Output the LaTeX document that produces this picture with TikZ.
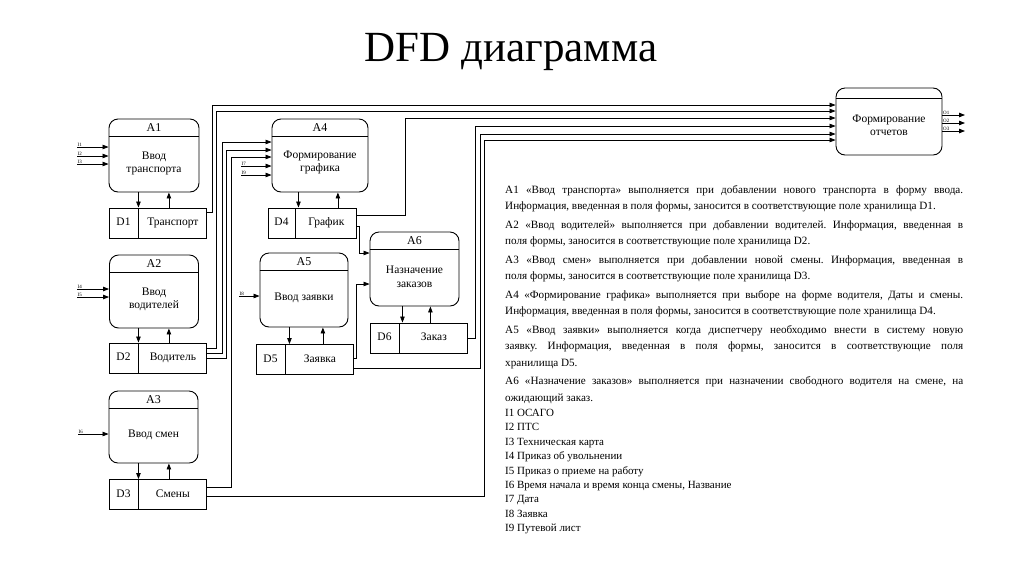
\documentclass[tikz,border=0pt]{standalone}
\usepackage{fontspec}
\setmainfont{Liberation Serif}
\usetikzlibrary{arrows.meta,positioning,calc}

\begin{document}
\begin{tikzpicture}[
  x=1pt, y=-1pt,
  proc/.style={draw, rounded corners=9pt, minimum width=89pt,
               minimum height=73pt, line width=0.9pt},
  ptitle/.style={font=\fontsize{12}{14}\selectfont, inner sep=0pt},
  ptext/.style={align=center, font=\fontsize{11.5}{13.5}\selectfont, inner sep=0pt},
  storeid/.style={draw, line width=0.9pt, minimum width=29pt, minimum height=30pt,
                  inner sep=0pt, text height=8pt, text depth=2.5pt,
                  font=\fontsize{11.5}{14}\selectfont},
  store/.style={storeid, minimum width=68pt},
  arrow/.style={-{Triangle[length=6pt,width=4.5pt]}, line width=0.8pt},
  flow/.style={arrow, line width=0.7pt},
  tiny/.style={font=\fontsize{5}{6}\selectfont, inner sep=0.5pt},
  desc/.style={align=justify, text width=458pt, inner sep=0pt,
               font=\fontsize{11.15}{16.5}\selectfont}
]
  \useasboundingbox[fill=white] (0,0) rectangle (1024,574);

  \node[font=\fontsize{43}{50}\selectfont] (title) at (511,52) {DFD диаграмма};

  % --- processes ----------------------------------------------------
  \node[proc, minimum width=90pt] (a1) at (154,155.5) {};
  \node[proc] (a2) at (154,291.5) {};
  \node[proc, minimum height=72pt] (a3) at (153.5,427) {};
  \node[proc, minimum width=96pt] (a4) at (320,155.5) {};
  \node[proc, minimum width=88pt, minimum height=74pt] (a5) at (304,290) {};
  \node[proc, minimum height=74pt] (a6) at (414.5,269) {};
  \node[proc, minimum width=106pt, minimum height=67pt] (rep) at (889,121.5) {};

  \foreach \p in {a1,a2,a3,a4,a5,a6}
    \draw[line width=0.7pt] ([yshift=-18pt]\p.north west) -- ([yshift=-18pt]\p.north east);
  \draw[line width=0.7pt] ([yshift=-11pt]rep.north west) -- ([yshift=-11pt]rep.north east);

  \node[ptitle] (a1t) at ([yshift=-9pt]a1.north) {A1};
  \node[ptitle] (a2t) at ([yshift=-9pt]a2.north) {A2};
  \node[ptitle] (a3t) at ([yshift=-9pt]a3.north) {A3};
  \node[ptitle] (a4t) at ([yshift=-9pt]a4.north) {A4};
  \node[ptitle] (a5t) at ([yshift=-9pt]a5.north) {A5};
  \node[ptitle] (a6t) at ([yshift=-9pt]a6.north) {A6};

  \node[ptext] (a1b) at ([yshift=-8pt]a1.center) {Ввод\\транспорта};
  \node[ptext] (a2b) at ([yshift=-8pt]a2.center) {Ввод\\водителей};
  \node[ptext] (a3b) at ([yshift=-8pt]a3.center) {Ввод смен};
  \node[ptext] (a4b) at ([yshift=-7pt]a4.center) {Формирование\\графика};
  \node[ptext] (a5b) at ([yshift=-8pt]a5.center) {Ввод заявки};
  \node[ptext] (a6b) at ([yshift=-8pt]a6.center) {Назначение\\заказов};
  \node[ptext] (repb) at ([yshift=-4pt]rep.center) {Формирование\\отчетов};

  % --- data stores --------------------------------------------------
  \node[storeid] (d1n) at (123.5,223) {D1};
  \node[store, right=0pt of d1n] (d1) {Транспорт};
  \node[storeid] (d2n) at (123.5,358) {D2};
  \node[store, right=0pt of d2n] (d2) {Водитель};
  \node[storeid] (d3n) at (123.5,494.5) {D3};
  \node[store, right=0pt of d3n] (d3) {Смены};
  \node[storeid, minimum width=27pt] (d4n) at (281.5,223) {D4};
  \node[store, minimum width=61pt, right=0pt of d4n] (d4) {График};
  \node[storeid] (d5n) at (270.5,359.5) {D5};
  \node[store, right=0pt of d5n] (d5) {Заявка};
  \node[storeid] (d6n) at (384.5,338) {D6};
  \node[store, right=0pt of d6n] (d6) {Заказ};

  % --- process <-> store --------------------------------------------
  \draw[arrow] (a1.south -| d1n.east) -- (d1n.north east);
  \draw[arrow] ($(d1.north)+(-4,0)$) -- ($(d1.north |- a1.south)+(-4,0)$);
  \draw[arrow] (a2.south -| d2n.east) -- (d2n.north east);
  \draw[arrow] ($(d2.north)+(-4,0)$) -- ($(d2.north |- a2.south)+(-4,0)$);
  \draw[arrow] (a3.south -| d3n.east) -- (d3n.north east);
  \draw[arrow] ($(d3.north)+(-4,0)$) -- ($(d3.north |- a3.south)+(-4,0)$);
  \draw[arrow] ($(a4.south -| d4n.east)+(3,0)$) -- ($(d4n.north east)+(3,0)$);
  \draw[arrow] ($(d4.north)+(11.5,0)$) -- ($(d4.north |- a4.south)+(11.5,0)$);
  \draw[arrow] ($(a5.south -| d5n.east)+(4,0)$) -- ($(d5n.north east)+(4,0)$);
  \draw[arrow] ($(d5.north)+(3,0)$) -- ($(d5.north |- a5.south)+(3,0)$);
  \draw[arrow] ($(a6.south -| d6n.east)+(3,0)$) -- ($(d6n.north east)+(3,0)$);
  \draw[arrow] ($(d6.north)+(-3.5,0)$) -- ($(d6.north |- a6.south)+(-3.5,0)$);

  % --- external inputs ----------------------------------------------
  \coordinate (i1) at (77,147);
  \coordinate (i2) at (77,156);
  \coordinate (i3) at (77,164);
  \coordinate (i4) at (77,289);
  \coordinate (i5) at (77,297);
  \coordinate (i6) at (78,434);
  \coordinate (i7) at (241,166);
  \coordinate (i9) at (241,175);
  \coordinate (i8) at (239,296);
  \draw[arrow] (i1) -- (a1.west |- i1);
  \draw[arrow] (i2) -- (a1.west |- i2);
  \draw[arrow] (i3) -- (a1.west |- i3);
  \draw[arrow] (i4) -- (a2.west |- i4);
  \draw[arrow] (i5) -- (a2.west |- i5);
  \draw[arrow] (i6) -- (a3.west |- i6);
  \draw[arrow] (i7) -- (a4.west |- i7);
  \draw[arrow] (i9) -- (a4.west |- i9);
  \draw[arrow] (i8) -- (a5.west |- i8);
  \node[tiny, anchor=south west] (li1) at (i1) {I1};
  \node[tiny, anchor=south west] (li2) at (i2) {I2};
  \node[tiny, anchor=south west] (li3) at (i3) {I3};
  \node[tiny, anchor=south west] (li4) at (i4) {I4};
  \node[tiny, anchor=south west] (li5) at (i5) {I5};
  \node[tiny, anchor=south west] (li6) at (i6) {I6};
  \node[tiny, anchor=south west] (li7) at (i7) {I7};
  \node[tiny, anchor=south west] (li9) at (i9) {I9};
  \node[tiny, anchor=south west] (li8) at (i8) {I8};

  % --- outputs --------------------------------------------------------
  \coordinate (o1) at (965,115);
  \coordinate (o2) at (965,123);
  \coordinate (o3) at (965,131);
  \draw[arrow] (rep.east |- o1) -- (o1);
  \draw[arrow] (rep.east |- o2) -- (o2);
  \draw[arrow] (rep.east |- o3) -- (o3);
  \node[tiny, anchor=south west] (lo1) at (rep.east |- o1) {O1};
  \node[tiny, anchor=south west] (lo2) at (rep.east |- o2) {O2};
  \node[tiny, anchor=south west] (lo3) at (rep.east |- o3) {O3};

  % --- store flows ----------------------------------------------------
  \draw[flow] (d1.east |- 0,212) -| (212,105) -- (rep.west |- 0,105);
  \draw[flow] (d2.east |- 0,348) -| (216,111) -- (rep.west |- 0,111);
  \draw[flow] (d4.east |- 0,215) -| (405,118) -- (rep.west |- 0,118);
  \draw[flow] (d6.east |- 0,338) -| (475,126) -- (rep.west |- 0,126);
  \draw[flow] (d5.east |- 0,368) -| (480,134) -- (rep.west |- 0,134);
  \draw[flow] (d3.east |- 0,496) -| (484,140) -- (rep.west |- 0,140);
  \draw[flow] (d2.east |- 0,353) -| (222,142) -- (a4.west |- 0,142);
  \draw[flow] (d2.east |- 0,358) -| (226,150) -- (a4.west |- 0,150);
  \draw[flow] (d3.east |- 0,487) -| (231,157) -- (a4.west |- 0,157);
  \draw[flow] (d4.east |- 0,226) -| (359,253) -- (a6.west |- 0,253);
  \draw[flow] (d5.east |- 0,358) -| (356,284) -- (a6.west |- 0,284);

  % --- description ----------------------------------------------------
  \node[desc, anchor=north west] (desc) at (505,185) {%
    \setlength\parindent{0pt}\setlength\parskip{2pt}\hyphenpenalty=10000
    \tolerance=9999 \frenchspacing
    A1 «Ввод транспорта» выполняется при добавлении нового транспорта в форму ввода.\linebreak
    Информация, введенная в поля формы, заносится в соответствующие поле хранилища D1.\par
    A2 «Ввод водителей» выполняется при добавлении водителей. Информация, введенная в\linebreak
    поля формы, заносится в соответствующие поле хранилища D2.\par
    A3 «Ввод смен» выполняется при добавлении новой смены. Информация, введенная в\linebreak
    поля формы, заносится в соответствующие поле хранилища D3.\par
    A4 «Формирование графика» выполняется при выборе на форме водителя, Даты и смены.\linebreak
    Информация, введенная в поля формы, заносится в соответствующие поле хранилища D4.\par
    A5 «Ввод заявки» выполняется когда диспетчеру необходимо внести в систему новую\linebreak
    заявку. Информация, введенная в поля формы, заносится в соответствующие поля\linebreak
    хранилища D5.\par
    A6 «Назначение заказов» выполняется при назначении свободного водителя на смене, на\linebreak
    ожидающий заказ.};
  \node[anchor=north west, inner sep=0pt, align=left,
        font=\fontsize{11}{14.4}\selectfont] (ilist) at (505,409)
    {I1 ОСАГО\\I2 ПТС\\I3 Техническая карта\\I4 Приказ об увольнении\\
     I5 Приказ о приеме на работу\\I6 Время начала и время конца смены, Название\\
     I7 Дата\\I8 Заявка\\I9 Путевой лист};
\end{tikzpicture}
\end{document}
